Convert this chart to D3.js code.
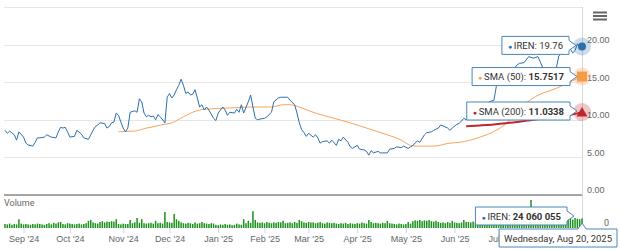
<!DOCTYPE html>
<html>
<head>
<meta charset="utf-8">
<script src="https://cdn.jsdelivr.net/npm/d3@7"></script>
<style>
  body { margin: 0; background: #fff; }
  svg { display: block; font-family: Roboto, "Liberation Sans", sans-serif; }
  .axisText { fill: #666; font-size: 9px; }
  .tipText { fill: #333; font-size: 9.5px; }
</style>
</head>
<body>
<div id="chart"></div>
<script>
// data: trading-day index (0 = Aug 21 '24, 249 = Aug 20 '25) and closing price
const priceDay = [0,1,2,4,5,6,8,9,10,12,13,14,15,17,18,20,22,23,24,25,26,27,28,30,31,33,34,36,37,38,39,40,41,43,44,45,46,47,48,49,50,51,52,53,54,56,57,58,59,60,61,62,63,64,65,66,67,69,70,71,72,73,74,75,76,77,78,79,80,81,82,83,84,85,86,87,88,90,91,92,94,95,96,97,99,100,101,102,103,105,106,107,108,109,110,112,113,115,116,118,119,120,122,123,125,126,127,128,129,130,131,133,134,135,136,137,139,140,141,143,144,145,146,148,149,150,152,153,155,156,157,158,159,161,162,163,165,166,168,169,171,172,174,175,176,178,179,181,182,184,185,187,188,189,191,192,193,195,196,198,199,201,203,205,207,209,211,212,214,217,219,221,222,224,226,228,230,231,232,234,235,237,238,239,241,244,245,246,247,248,249];
const priceClose = [8.6,8.2,8.5,8.0,7.3,8.4,7.7,6.9,6.65,6.5,7.0,7.6,7.6,7.7,8.0,7.7,7.6,8.4,9.0,8.9,9.0,8.4,7.7,7.8,8.6,8.1,7.6,7.4,8.0,8.6,9.1,9.3,9.6,9.5,8.9,9.1,9.6,9.7,10.9,10.6,9.7,8.9,8.4,8.9,11.0,11.2,11.0,12.8,12.4,10.9,10.4,10.6,10.4,10.5,10.0,10.7,10.4,9.6,13.0,13.5,12.9,13.3,14.0,14.6,15.4,14.6,13.5,13.7,13.3,13.4,14.0,12.9,11.7,12.0,11.3,11.7,11.3,10.2,9.9,10.9,11.7,11.3,10.6,11.0,10.9,11.4,11.0,12.0,10.9,12.4,13.3,11.7,10.2,10.0,10.1,10.2,10.4,11.0,12.4,12.9,13.0,13.0,13.0,12.6,12.0,10.9,9.6,8.7,8.3,7.8,8.2,7.7,8.0,7.6,6.9,7.1,7.2,6.9,7.3,6.6,7.4,7.2,7.7,7.0,6.4,6.2,6.6,6.1,6.0,5.8,5.3,5.9,5.6,5.8,5.6,5.6,5.6,6.1,6.2,6.4,6.3,6.5,6.2,6.4,6.6,7.2,7.0,8.0,8.3,8.4,8.6,8.9,9.3,9.2,8.9,8.6,8.9,9.4,9.5,10.2,10.0,10.6,11.0,11.5,11.9,12.4,12.6,14.4,15.2,16.0,16.5,17.3,17.5,17.6,18.4,18.2,18.4,17.7,17.0,16.2,15.8,16.2,17.0,18.5,19.0,19.4,18.9,19.2,20.1,19.6,19.76];

const sma50Day = [49,52,56,61,63,67,72,77,81,86,92,99,106,115,120,123,127,132,142,149,156,165,171,175,178,185,192,196,205,212,217,222,229,238,243,247,249];
const sma50Val = [8.4,8.45,8.5,8.9,9.0,9.3,9.6,10.4,11.0,11.4,11.5,11.6,11.7,11.7,12.0,12.0,11.7,11.1,10.2,9.6,8.9,8.0,7.3,6.6,6.5,6.5,6.9,7.0,7.7,8.6,9.7,11.5,13.1,14.2,14.9,15.5,15.7517];

const sma200Day = [199,205,210,222,233,243,247,249];
const sma200Val = [9.15,9.25,9.35,9.75,10.2,10.6,10.85,11.0338];

// daily volume, millions of shares
const volume = [
  10,9,11,8,10,9,
  22,
  11,9,10,9,8,10,9,11,10,9,8,10,12,9,
  13,11,14,15,10,9,12,11,10,9,10,11,9,10,12,
  18,20,14,12,11,
  15,17,14,16,15,17,16,22,
  10,9,11,10,10,
  20,12,14,25,13,22,12,11,
  12,13,11,18,12,13,11,
  40,15,14,13,35,22,18,14,
  12,11,13,12,10,14,11,12,15,12,11,10,12,11,
  8,7,9,8,10,8,9,7,8,11,9,8,
  22,12,18,13,42,20,14,
  13,14,12,15,13,12,14,13,15,14,18,12,13,14,12,15,13,20,17,14,13,15,14,
  14,12,13,15,12,11,14,13,12,13,
  11,10,12,11,13,10,12,11,10,12,11,14,12,11,
  20,15,
  12,13,12,11,13,12,
  18,12,11,
  10,9,11,10,9,10,15,11,
  17,19,18,20,17,19,18,20,17,16,18,15,
  13,14,12,15,13,18,14,13,12,14,20,15,
  15,14,16,13,15,
  16,14,15,17,14,16,15,18,14,16,15,17,14,15,16,18,15,14,16,17,15,16,
  70,
  20,18,16,17,15,18,16,17,19,16,18,17,16,18,20,
  22,24,21,25,23,22,24.060055
];

// Aug '25 sits under the date label in the reference, so only up to Jul
const monthLabels = ["Sep '24", "Oct '24", "Nov '24", "Dec '24", "Jan '25", "Feb '25", "Mar '25", "Apr '25", "May '25", "Jun '25", "Jul '25"];
const monthDay = [8, 28, 51, 71, 92, 112, 131, 152, 173, 194, 214];
const priceTicks = [0, 5, 10, 15, 20];
const gridTicks = [0, 5, 10, 15, 20, 25];

// constants
const WIDTH = 620;
const HEIGHT = 251;
const PLOT_LEFT = 4;
const PLOT_RIGHT = 582;
const PRICE_COLOR = "#2c6fad";
const SMA50_COLOR = "#f7a35c";
const SMA200_COLOR = "#c0272d";
const VOLUME_COLOR = "#1f911f";
const TIP_BORDER = "#4a86b8";

const svg = d3.select("#chart").append("svg")
    .attr("width", WIDTH)
    .attr("height", HEIGHT);

const x = d3.scaleLinear().domain([0, 249]).range([5, PLOT_RIGHT]);
const y = d3.scaleLinear().domain([0, 25]).range([195, 7]);
const yVol = d3.scaleLinear().domain([0, 75]).range([228, 198]);

// gridlines
svg.append("g").selectAll("line")
    .data(gridTicks)
    .join("line")
    .attr("x1", PLOT_LEFT).attr("x2", PLOT_RIGHT)
    .attr("y1", d => Math.round(y(d)) + 0.5)
    .attr("y2", d => Math.round(y(d)) + 0.5)
    .attr("stroke", "#e6e6e6");

svg.append("line")
    .attr("x1", PLOT_RIGHT + 0.5).attr("x2", PLOT_RIGHT + 0.5)
    .attr("y1", 7).attr("y2", 228)
    .attr("stroke", "#d8d8d8");

// price axis labels
const yAxis = d3.axisRight(y)
    .tickValues(priceTicks)
    .tickFormat(d3.format(".2f"))
    .tickSize(0)
    .tickPadding(0);
const yAxisG = svg.append("g")
    .attr("transform", "translate(" + (PLOT_RIGHT + 5) + ",-5)")
    .call(yAxis);
yAxisG.select(".domain").remove();
yAxisG.selectAll("text").attr("class", "axisText").attr("font-family", null).attr("font-size", null);

// volume pane
svg.append("text")
    .attr("class", "axisText")
    .attr("x", PLOT_LEFT)
    .attr("y", 206)
    .attr("font-size", "8.5px")
    .text("Volume");
svg.append("text")
    .attr("class", "axisText")
    .attr("x", 609)
    .attr("y", 226)
    .attr("text-anchor", "end")
    .text("0");

svg.append("g").selectAll("rect")
    .data(volume)
    .join("rect")
    .attr("x", (d, i) => x(i) - 0.75)
    .attr("width", 1.5)
    .attr("y", d => yVol(d))
    .attr("height", d => yVol(0) - yVol(d))
    .attr("fill", VOLUME_COLOR);

// separator between panes
svg.append("line")
    .attr("x1", PLOT_LEFT).attr("x2", PLOT_RIGHT)
    .attr("y1", 195).attr("y2", 195)
    .attr("stroke", "#8a8a8a")
    .attr("stroke-width", 1.5);

// x axis
const xAxis = d3.axisBottom(x)
    .tickValues(monthDay)
    .tickFormat((d, i) => monthLabels[i])
    .tickSize(5)
    .tickPadding(3);
const xAxisG = svg.append("g")
    .attr("transform", "translate(0,228)")
    .call(xAxis);
xAxisG.select(".domain").remove();
xAxisG.selectAll(".tick line").attr("stroke", "#ccd6eb");
xAxisG.selectAll("text").attr("class", "axisText").attr("font-family", null).attr("font-size", null);

// series lines
const priceData = priceDay.map((d, i) => [d, priceClose[i]]);
const sma50Data = sma50Day.map((d, i) => [d, sma50Val[i]]);
const sma200Data = sma200Day.map((d, i) => [d, sma200Val[i]]);

const line = d3.line().x(d => x(d[0])).y(d => y(d[1]));
const smooth = d3.line().x(d => x(d[0])).y(d => y(d[1])).curve(d3.curveMonotoneX);

svg.append("path").datum(sma50Data)
    .attr("d", smooth).attr("fill", "none")
    .attr("stroke", SMA50_COLOR).attr("stroke-width", 1);
svg.append("path").datum(sma200Data)
    .attr("d", smooth).attr("fill", "none")
    .attr("stroke", SMA200_COLOR).attr("stroke-width", 2);
svg.append("path").datum(priceData)
    .attr("d", line).attr("fill", "none")
    .attr("stroke", PRICE_COLOR).attr("stroke-width", 1)
    .attr("stroke-linejoin", "round");

// hover markers on the last point
const last = 249;
const px = x(last);
const markers = [
    { v: priceClose[priceClose.length - 1], color: PRICE_COLOR, halo: "rgba(44,111,173,0.25)", shape: "circle" },
    { v: sma50Val[sma50Val.length - 1], color: "#f59b45", halo: "rgba(247,163,92,0.3)", shape: "square" },
    { v: sma200Val[sma200Val.length - 1], color: SMA200_COLOR, halo: "rgba(192,39,45,0.25)", shape: "triangle" }
];
const markerG = svg.append("g");
markers.forEach(m => {
    const py = y(m.v);
    markerG.append("circle").attr("cx", px).attr("cy", py).attr("r", 9).attr("fill", m.halo);
    if (m.shape === "circle") {
        markerG.append("circle").attr("cx", px).attr("cy", py).attr("r", 4).attr("fill", m.color);
    } else if (m.shape === "square") {
        markerG.append("rect").attr("x", px - 5).attr("y", py - 5).attr("width", 10).attr("height", 10).attr("fill", m.color);
    } else {
        markerG.append("path")
            .attr("d", "M" + px + "," + (py - 5) + " L" + (px + 5.5) + "," + (py + 4.5) + " L" + (px - 5.5) + "," + (py + 4.5) + " Z")
            .attr("fill", m.color);
    }
});

// tooltips
function tipRight(tipX, tipY, parts, dotColor) {
    const g = svg.append("g");
    const path = g.append("path");
    const text = g.append("text").attr("class", "tipText");
    text.append("tspan").attr("fill", dotColor).text("\u25CF ").attr("font-size", "7px");
    parts.forEach(p => text.append("tspan").attr("font-weight", p.bold ? "bold" : null).text(p.t));
    const w = text.node().getComputedTextLength() + 12;
    const h = 18;
    const right = tipX - 7;
    const left = right - w;
    const top = tipY - h / 2;
    text.attr("x", left + 6).attr("y", tipY + 3.5);
    path.attr("d", "M" + left + "," + top + " H" + right + " V" + (tipY - 5) + " L" + tipX + "," + tipY +
        " L" + right + "," + (tipY + 5) + " V" + (top + h) + " H" + left + " Z")
        .attr("fill", "rgba(255,255,255,0.96)")
        .attr("stroke", TIP_BORDER)
        .attr("stroke-width", 1);
}

tipRight(px - 6, y(markers[0].v) - 1, [{ t: "IREN: " + d3.format(".2f")(markers[0].v) }], PRICE_COLOR);
tipRight(px - 5, y(markers[1].v), [{ t: "SMA (50): " }, { t: d3.format(".4f")(markers[1].v), bold: true }], SMA50_COLOR);
tipRight(px - 5, y(markers[2].v) - 1, [{ t: "SMA (200): " }, { t: d3.format(".4f")(markers[2].v), bold: true }], SMA200_COLOR);
tipRight(px - 8, 216, [{ t: "IREN: " }, { t: d3.format(",")(Math.round(volume[last] * 1e6)).replace(/,/g, " "), bold: true }], PRICE_COLOR);

// date label under the axis
(function () {
    const g = svg.append("g");
    const path = g.append("path");
    const text = g.append("text").attr("class", "tipText").text("Wednesday, Aug 20, 2025");
    const w = text.node().getComputedTextLength() + 10;
    const top = 229, h = 18, right = 617, left = right - w;
    text.attr("x", left + 5).attr("y", top + 12.5);
    path.attr("d", "M" + left + "," + top + " H" + (px - 4) + " L" + px + "," + (top - 6) + " L" + (px + 4) + "," + top +
        " H" + right + " V" + (top + h) + " H" + left + " Z")
        .attr("fill", "#fff")
        .attr("stroke", TIP_BORDER);
})();

// context menu button
svg.append("g").selectAll("line")
    .data([12.5, 16, 19.5])
    .join("line")
    .attr("x1", 593).attr("x2", 607)
    .attr("y1", d => d).attr("y2", d => d)
    .attr("stroke", "#666")
    .attr("stroke-width", 2);
</script>
</body>
</html>
